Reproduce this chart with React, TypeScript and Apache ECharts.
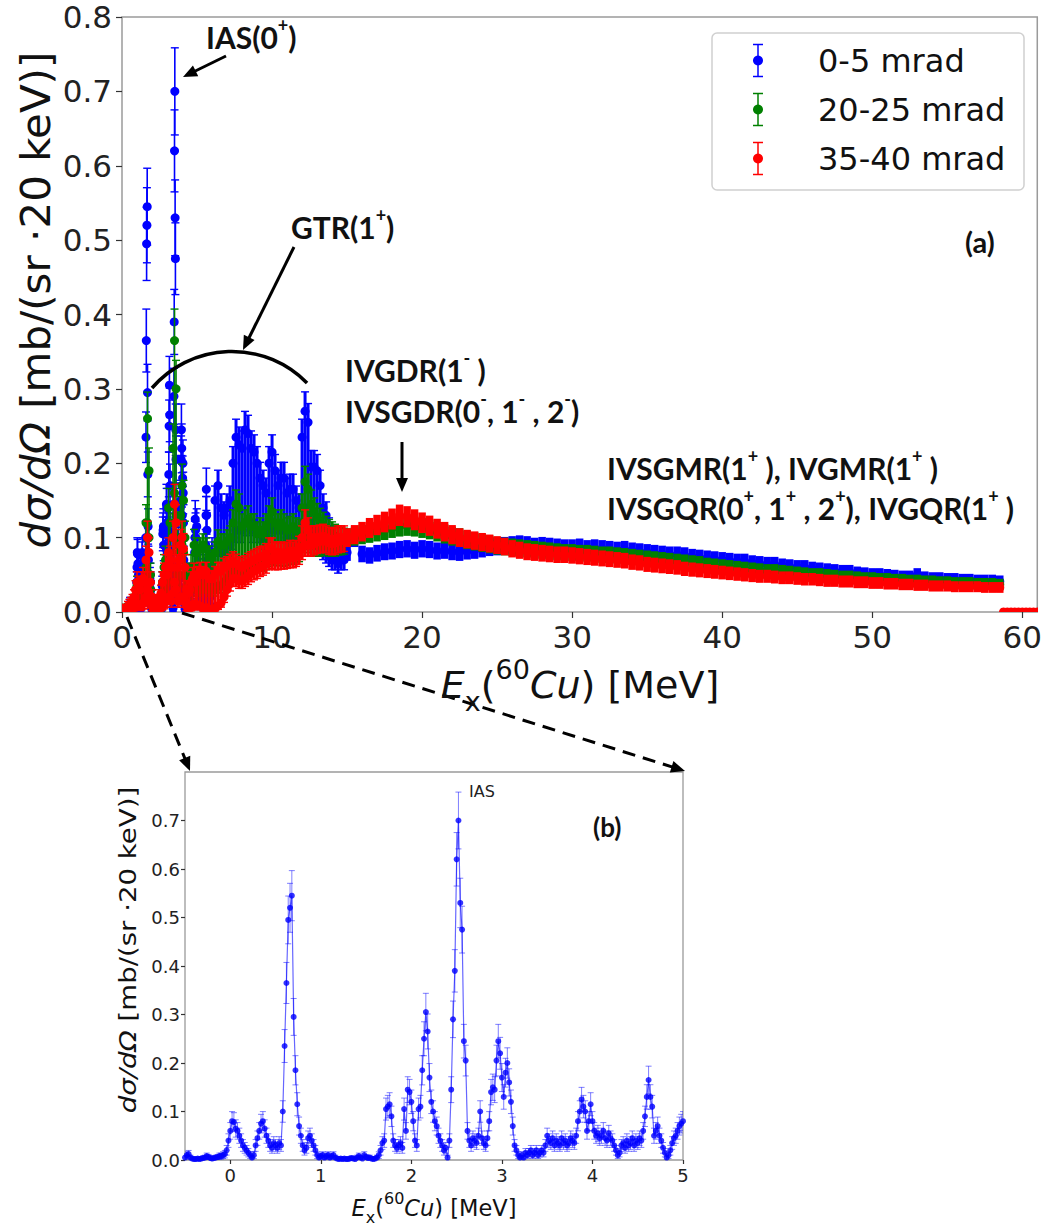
import React, { useEffect, useRef } from "react";
import * as echarts from "echarts";

// ---------------- data ----------------
// Inset (b): 0-5 mrad spectrum, 20 keV bins from -0.5 MeV
const insetStart = -0.5;
const insetStep = 0.02;
const insetBlue = [
  0.005, 0.010, 0.012, 0.005, 0.003, 0.002, 0.002, 0.003, 0.002, 0.003,
  0.004, 0.005, 0.008, 0.006, 0.004, 0.003, 0.004, 0.005, 0.006, 0.008,
  0.008, 0.010, 0.012, 0.020, 0.040, 0.060, 0.080, 0.078, 0.065, 0.060,
  0.050, 0.040, 0.030, 0.025, 0.020, 0.015, 0.010, 0.005, 0.010, 0.030,
  0.045, 0.060, 0.075, 0.080, 0.065, 0.050, 0.040, 0.030, 0.025, 0.035,
  0.030, 0.025, 0.035, 0.030, 0.100, 0.235, 0.365, 0.495, 0.520, 0.545,
  0.295, 0.185, 0.115, 0.070, 0.050, 0.030, 0.020, 0.025, 0.045, 0.050,
  0.040, 0.030, 0.020, 0.010, 0.005, 0.008, 0.010, 0.005, 0.008, 0.010,
  0.005, 0.008, 0.010, 0.005, 0.003, 0.002, 0.003, 0.002, 0.003, 0.002,
  0.002, 0.003, 0.004, 0.003, 0.002, 0.005, 0.008, 0.005, 0.003, 0.010,
  0.006, 0.004, 0.005, 0.003, 0.002, 0.003, 0.005, 0.010, 0.020, 0.035,
  0.040, 0.105, 0.110, 0.115, 0.090, 0.040, 0.030, 0.025, 0.030, 0.035,
  0.025, 0.105, 0.060, 0.145, 0.140, 0.120, 0.080, 0.040, 0.030, 0.105,
  0.110, 0.185, 0.250, 0.305, 0.265, 0.170, 0.120, 0.100, 0.080, 0.070,
  0.050, 0.040, 0.030, 0.020, 0.025, 0.005, 0.040, 0.145, 0.290, 0.390,
  0.620, 0.700, 0.530, 0.475, 0.245, 0.205, 0.060, 0.040, 0.030, 0.045,
  0.040, 0.035, 0.050, 0.100, 0.045, 0.035, 0.030, 0.045, 0.080, 0.140,
  0.150, 0.145, 0.205, 0.245, 0.220, 0.170, 0.130, 0.180, 0.200, 0.160,
  0.120, 0.070, 0.030, 0.020, 0.010, 0.005, 0.010, 0.005, 0.015, 0.010,
  0.015, 0.020, 0.010, 0.015, 0.020, 0.010, 0.015, 0.020, 0.015, 0.030,
  0.050, 0.040, 0.035, 0.045, 0.030, 0.040, 0.035, 0.030, 0.045, 0.035,
  0.040, 0.030, 0.035, 0.045, 0.040, 0.035, 0.050, 0.080, 0.100, 0.125,
  0.110, 0.100, 0.060, 0.080, 0.115, 0.080, 0.060, 0.050, 0.055, 0.045,
  0.050, 0.060, 0.045, 0.040, 0.055, 0.045, 0.040, 0.030, 0.020, 0.010,
  0.015, 0.030, 0.035, 0.025, 0.040, 0.030, 0.035, 0.045, 0.030, 0.040,
  0.035, 0.045, 0.040, 0.060, 0.090, 0.130, 0.165, 0.130, 0.110, 0.050,
  0.060, 0.070, 0.050, 0.040, 0.025, 0.015, 0.005, 0.010, 0.020, 0.035,
  0.045, 0.050, 0.060, 0.070, 0.075, 0.080,
];

// energy offset of the main panel relative to the inset (as read from the peaks)
const mainShift = 1.0;

// main panel, low region 0 - 4.9 MeV, 0.1 MeV slices: highest / lowest bin in each slice
const lowStart = 0;
const lowStep = 0.1;
const greenLowHi = [
  0.005, 0.005, 0.004, 0.005, 0.006, 0.006, 0.010, 0.012, 0.015, 0.020,
  0.035, 0.030, 0.018, 0.030, 0.035, 0.030, 0.120, 0.260, 0.190, 0.050,
  0.020, 0.008, 0.005, 0.005, 0.006, 0.006, 0.010, 0.040, 0.060, 0.070,
  0.060, 0.140, 0.120, 0.060, 0.220, 0.365, 0.300, 0.090, 0.080, 0.130,
  0.170, 0.150, 0.100, 0.050, 0.040, 0.045, 0.060, 0.060, 0.090, 0.080,
];
const greenLowLo = [
  0.004, 0.004, 0.003, 0.004, 0.005, 0.005, 0.008, 0.010, 0.012, 0.015,
  0.025, 0.020, 0.015, 0.020, 0.025, 0.025, 0.060, 0.120, 0.100, 0.030,
  0.015, 0.006, 0.004, 0.004, 0.005, 0.005, 0.008, 0.020, 0.030, 0.040,
  0.040, 0.070, 0.060, 0.040, 0.100, 0.160, 0.130, 0.050, 0.050, 0.070,
  0.090, 0.080, 0.050, 0.030, 0.025, 0.030, 0.040, 0.040, 0.050, 0.050,
];
const redLowHi = [
  0.005, 0.005, 0.003, 0.005, 0.008, 0.010, 0.012, 0.015, 0.020, 0.030,
  0.040, 0.035, 0.030, 0.040, 0.045, 0.040, 0.070, 0.100, 0.080, 0.040,
  0.020, 0.010, 0.008, 0.010, 0.015, 0.020, 0.025, 0.040, 0.050, 0.060,
  0.050, 0.080, 0.070, 0.060, 0.100, 0.145, 0.120, 0.060, 0.070, 0.090,
  0.100, 0.085, 0.060, 0.030, 0.025, 0.030, 0.040, 0.045, 0.050, 0.040,
];
const redLowLo = [
  0.002, 0.002, 0.001, 0.002, 0.003, 0.004, 0.005, 0.006, 0.008, 0.010,
  0.010, 0.010, 0.008, 0.010, 0.012, 0.012, 0.020, 0.030, 0.025, 0.015,
  0.008, 0.004, 0.003, 0.004, 0.005, 0.006, 0.008, 0.010, 0.012, 0.015,
  0.015, 0.020, 0.020, 0.015, 0.025, 0.040, 0.030, 0.015, 0.015, 0.020,
  0.020, 0.020, 0.015, 0.008, 0.005, 0.005, 0.008, 0.010, 0.010, 0.010,
];

// main panel, mid region, 0.2 MeV slices: highest / lowest bin in each slice
const midStep = 0.2;
const blueMidStart = 6.2;
const blueMidHi = [
  0.150, 0.170, 0.140, 0.130, 0.140, 0.150, 0.200, 0.235, 0.225, 0.220,
  0.245, 0.240, 0.220, 0.215, 0.200, 0.180, 0.170, 0.160, 0.200, 0.215,
  0.190, 0.170, 0.180, 0.180, 0.160, 0.165, 0.165, 0.150, 0.140, 0.235,
  0.270, 0.255, 0.195, 0.195, 0.190, 0.170, 0.140, 0.130, 0.110, 0.100,
  0.085, 0.075, 0.075, 0.075,
];
const blueMidLo = [
  0.080, 0.090, 0.080, 0.080, 0.090, 0.090, 0.100, 0.110, 0.110, 0.110,
  0.120, 0.120, 0.110, 0.120, 0.110, 0.110, 0.100, 0.100, 0.110, 0.120,
  0.110, 0.110, 0.110, 0.110, 0.100, 0.100, 0.100, 0.100, 0.100, 0.120,
  0.140, 0.130, 0.120, 0.110, 0.100, 0.090, 0.085, 0.080, 0.075, 0.070,
  0.070, 0.065, 0.070, 0.070,
];
const midStart = 5.0;
const greenMidHi = [
  0.080, 0.085, 0.090, 0.085, 0.075, 0.070, 0.080, 0.095, 0.090, 0.090,
  0.095, 0.100, 0.120, 0.145, 0.140, 0.115, 0.120, 0.125, 0.115, 0.115,
  0.105, 0.110, 0.105, 0.115, 0.125, 0.135, 0.120, 0.115, 0.120, 0.115,
  0.110, 0.112, 0.115, 0.110, 0.108, 0.140, 0.175, 0.165, 0.145, 0.135,
  0.128, 0.122, 0.117, 0.112, 0.108, 0.105, 0.102, 0.100, 0.098, 0.097,
];
const greenMidLo = [
  0.030, 0.030, 0.035, 0.035, 0.030, 0.030, 0.030, 0.035, 0.035, 0.040,
  0.045, 0.050, 0.055, 0.060, 0.055, 0.055, 0.058, 0.060, 0.062, 0.064,
  0.066, 0.068, 0.068, 0.070, 0.075, 0.078, 0.076, 0.076, 0.076, 0.075,
  0.076, 0.078, 0.078, 0.080, 0.082, 0.090, 0.100, 0.095, 0.090, 0.090,
  0.090, 0.090, 0.092, 0.092, 0.090, 0.090, 0.090, 0.092, 0.092, 0.093,
];
const redMidHi = [
  0.050, 0.055, 0.050, 0.055, 0.045, 0.045, 0.050, 0.055, 0.055, 0.060,
  0.062, 0.065, 0.068, 0.065, 0.062, 0.060, 0.063, 0.066, 0.068, 0.070,
  0.072, 0.074, 0.075, 0.078, 0.085, 0.085, 0.080, 0.080, 0.080, 0.079,
  0.080, 0.082, 0.080, 0.082, 0.087, 0.100, 0.120, 0.110, 0.100, 0.100,
  0.100, 0.101, 0.102, 0.100, 0.098, 0.097, 0.098, 0.100, 0.100, 0.100,
];
const redMidLo = [
  0.010, 0.008, 0.005, 0.006, 0.004, 0.004, 0.005, 0.008, 0.012, 0.020,
  0.030, 0.038, 0.045, 0.045, 0.042, 0.042, 0.045, 0.048, 0.052, 0.055,
  0.057, 0.060, 0.062, 0.065, 0.070, 0.072, 0.070, 0.070, 0.071, 0.071,
  0.072, 0.073, 0.073, 0.075, 0.078, 0.085, 0.090, 0.090, 0.090, 0.092,
  0.094, 0.095, 0.096, 0.095, 0.093, 0.092, 0.093, 0.095, 0.096, 0.097,
];

// main panel, high region 15 - 58.5 MeV, 0.5 MeV steps
const highStart = 15;
const highStep = 0.5;
const blueHigh = [
  0.080, 0.100, 0.078, 0.076, 0.079, 0.081, 0.082, 0.084, 0.085, 0.083,
  0.085, 0.084, 0.082, 0.083, 0.081, 0.080, 0.082, 0.083, 0.085, 0.087,
  0.088, 0.089, 0.090, 0.091, 0.090, 0.088, 0.089, 0.088, 0.087, 0.086,
  0.086, 0.087, 0.085, 0.086, 0.085, 0.084, 0.083, 0.084, 0.082, 0.081,
  0.080, 0.079, 0.078, 0.077, 0.077, 0.076, 0.074, 0.073, 0.072, 0.071,
  0.070, 0.069, 0.068, 0.068, 0.066, 0.065, 0.064, 0.064, 0.062, 0.061,
  0.060, 0.060, 0.058, 0.057, 0.056, 0.055, 0.054, 0.054, 0.052, 0.051,
  0.050, 0.050, 0.049, 0.048, 0.047, 0.047, 0.050, 0.046, 0.045, 0.045,
  0.044, 0.044, 0.043, 0.043, 0.042, 0.042, 0.042, 0.041,
];
const greenHigh = [
  0.100, 0.102, 0.104, 0.106, 0.108, 0.110, 0.113, 0.115, 0.116, 0.115,
  0.113, 0.111, 0.108, 0.105, 0.102, 0.100, 0.097, 0.095, 0.093, 0.091,
  0.089, 0.088, 0.087, 0.086, 0.085, 0.084, 0.083, 0.082, 0.081, 0.080,
  0.080, 0.079, 0.079, 0.078, 0.077, 0.077, 0.076, 0.075, 0.074, 0.073,
  0.072, 0.071, 0.070, 0.069, 0.068, 0.067, 0.066, 0.065, 0.063, 0.062,
  0.061, 0.060, 0.059, 0.058, 0.057, 0.056, 0.055, 0.055, 0.054, 0.053,
  0.052, 0.051, 0.050, 0.050, 0.049, 0.048, 0.047, 0.047, 0.046, 0.045,
  0.045, 0.044, 0.044, 0.043, 0.043, 0.042, 0.042, 0.041, 0.041, 0.040,
  0.040, 0.039, 0.039, 0.039, 0.038, 0.038, 0.038, 0.037,
];
const redHigh = [
  0.100, 0.104, 0.108, 0.113, 0.117, 0.121, 0.125, 0.130, 0.128, 0.124,
  0.120, 0.116, 0.112, 0.108, 0.104, 0.100, 0.098, 0.096, 0.094, 0.092,
  0.090, 0.088, 0.085, 0.083, 0.081, 0.080, 0.079, 0.078, 0.077, 0.077,
  0.076, 0.075, 0.074, 0.073, 0.072, 0.071, 0.070, 0.069, 0.067, 0.066,
  0.064, 0.063, 0.062, 0.061, 0.060, 0.058, 0.057, 0.056, 0.055, 0.054,
  0.053, 0.052, 0.051, 0.050, 0.049, 0.048, 0.048, 0.047, 0.046, 0.046,
  0.045, 0.044, 0.044, 0.043, 0.042, 0.042, 0.041, 0.041, 0.040, 0.040,
  0.039, 0.039, 0.038, 0.038, 0.037, 0.037, 0.036, 0.036, 0.035, 0.035,
  0.035, 0.034, 0.034, 0.034, 0.034, 0.033, 0.033, 0.033,
];
// above the end of the spectrum
const tailStart = 58.75;
const tailStep = 0.25;
const redTail = [0, 0, 0, 0, 0, 0, 0, 0, 0, 0];

// statistical uncertainty scale (err = k * sqrt(value))
const errFine = 0.07;
const errMid = 0.05;
const errHigh = 0.04;

const seriesNames = ["0-5 mrad", "20-25 mrad", "35-40 mrad"];
const seriesColors = ["#0000ff", "#008000", "#ff0000"];

const mainXTicks = [0, 10, 20, 30, 40, 50, 60];
const mainYTicks = [0, 0.1, 0.2, 0.3, 0.4, 0.5, 0.6, 0.7, 0.8];
const insetXTicks = [0, 1, 2, 3, 4, 5];
const insetYTicks = [0, 0.1, 0.2, 0.3, 0.4, 0.5, 0.6, 0.7];

// ---------------- helpers ----------------
const FONT = "DejaVu Sans";
const AFONT = "Lato";

// item: [x, hi, errHi, step, lo, errLo]
function segment(start: number, step: number, hi: number[], k: number, lo?: number[]) {
  return hi.map((v, i) => {
    const l = lo ? lo[i] : v;
    return [+(start + i * step).toFixed(4), v, k * Math.sqrt(v), step, l, k * Math.sqrt(l)];
  });
}

function arrow(x1: number, y1: number, x2: number, y2: number, width: number, headLen: number, headW: number, dash?: number[]) {
  const dx = x2 - x1;
  const dy = y2 - y1;
  const L = Math.hypot(dx, dy);
  const ux = dx / L;
  const uy = dy / L;
  const bx = x2 - ux * headLen;
  const by = y2 - uy * headLen;
  return [
    {
      type: "line",
      z: 60,
      shape: { x1, y1, x2: bx + ux * 2, y2: by + uy * 2 },
      style: { stroke: "#000", lineWidth: width, lineDash: dash || null },
    },
    {
      type: "polygon",
      z: 60,
      shape: {
        points: [
          [x2, y2],
          [bx - uy * headW, by + ux * headW],
          [bx + uy * headW, by - ux * headW],
        ],
      },
      style: { fill: "#000" },
    },
  ];
}

function annText(x: number, y: number, text: string, size: number) {
  const lh = Math.round(size * 1.4);
  return {
    type: "text",
    z: 60,
    x,
    y,
    style: {
      text,
      fontFamily: AFONT,
      fontWeight: "bold",
      fontSize: size,
      lineHeight: lh,
      fill: "#111",
      align: "left",
      verticalAlign: "middle",
      rich: {
        sup: {
          fontFamily: AFONT,
          fontWeight: "bold",
          fontSize: Math.round(size * 0.6),
          lineHeight: Math.round(size * 0.72),
          verticalAlign: "top",
          fill: "#111",
        },
      },
    },
  };
}

function mathRich(size: number) {
  const lh = Math.round(size * 1.55);
  return {
    lh,
    rich: {
      it: { fontFamily: FONT, fontStyle: "italic", fontSize: size, lineHeight: lh, verticalAlign: "middle", fill: "#111" },
      n: { fontFamily: FONT, fontSize: size, lineHeight: lh, verticalAlign: "middle", fill: "#111" },
      sup: { fontFamily: FONT, fontSize: Math.round(size * 0.7), lineHeight: Math.round(size * 0.68), verticalAlign: "top", fill: "#111" },
      sub: { fontFamily: FONT, fontSize: Math.round(size * 0.7), lineHeight: Math.round(size * 1.2), verticalAlign: "bottom", fill: "#111" },
    },
  };
}

function axisTitle(x: number, y: number, text: string, size: number, rotate: boolean, stretch: number) {
  const m = mathRich(size);
  return {
    type: "text",
    z: 60,
    x,
    y,
    rotation: rotate ? Math.PI / 2 : 0,
    scaleX: stretch,
    style: {
      text,
      fontFamily: FONT,
      fontSize: size,
      lineHeight: m.lh,
      fill: "#111",
      align: "center",
      verticalAlign: "middle",
      rich: m.rich,
    },
  };
}

const xTitle = "{it|E}{sub|x}{n|(}{sup|60}{it|Cu}{n|) [MeV]}";
const yTitle = "{it|dσ/dΩ}{n| [mb/(sr ·20 keV)]}";

export default function App() {
  const ref = useRef<HTMLDivElement>(null);

  useEffect(() => {
    document.body.style.margin = "0";
    if (!ref.current) return;
    const chart = echarts.init(ref.current, null, { renderer: "svg" });

    const blueMain = [
      ...segment(insetStart + mainShift, insetStep, insetBlue, errFine),
      ...segment(blueMidStart, midStep, blueMidHi, errMid, blueMidLo),
      ...segment(highStart, highStep, blueHigh, errHigh),
    ];
    const greenMain = [
      ...segment(lowStart, lowStep, greenLowHi, errFine, greenLowLo),
      ...segment(midStart, midStep, greenMidHi, errMid, greenMidLo),
      ...segment(highStart, highStep, greenHigh, errHigh),
    ];
    const redMain = [
      ...segment(lowStart, lowStep, redLowHi, errFine, redLowLo),
      ...segment(midStart, midStep, redMidHi, errMid, redMidLo),
      ...segment(highStart, highStep, redHigh, errHigh),
      ...segment(tailStart, tailStep, redTail, 0),
    ];
    const mainData = [blueMain, greenMain, redMain];

    const insetData = segment(insetStart, insetStep, insetBlue, errFine);

    const mainRender = (color: string) => (params: any, api: any) => {
      const x = api.value(0);
      const hi = api.value(1);
      const eHi = api.value(2);
      const st = api.value(3);
      const lo = api.value(4);
      const eLo = api.value(5);
      const cHi = api.coord([x, hi]);
      const cLo = api.coord([x, lo]);
      const t = api.coord([x, hi + eHi]);
      const b = api.coord([x, lo - eLo]);
      const w = Math.max(1.6, api.size([st, 0])[0]);
      const children: any[] = [];
      if (b[1] - t[1] > 0.5) {
        children.push({
          type: "rect",
          shape: { x: cHi[0] - w / 2, y: t[1], width: w, height: b[1] - t[1] },
          style: { fill: color },
        });
        if (w < 4) {
          children.push({
            type: "line",
            shape: { x1: cHi[0] - 4, y1: t[1], x2: cHi[0] + 4, y2: t[1] },
            style: { stroke: color, lineWidth: 1.4 },
          });
          children.push({
            type: "line",
            shape: { x1: cHi[0] - 4, y1: b[1], x2: cHi[0] + 4, y2: b[1] },
            style: { stroke: color, lineWidth: 1.4 },
          });
        }
      }
      children.push({ type: "circle", shape: { cx: cHi[0], cy: cHi[1], r: 4.5 }, style: { fill: color } });
      if (lo !== hi) {
        children.push({ type: "circle", shape: { cx: cLo[0], cy: cLo[1], r: 4.5 }, style: { fill: color } });
      }
      return { type: "group", children };
    };

    const insetRender = (params: any, api: any) => {
      const x = api.value(0);
      const y = api.value(1);
      const e = api.value(2);
      const t = api.coord([x, y + e]);
      const b = api.coord([x, y - e]);
      const st = { stroke: "rgba(0,0,255,0.5)", lineWidth: 1 };
      return {
        type: "group",
        children: [
          { type: "line", shape: { x1: t[0], y1: t[1], x2: b[0], y2: b[1] }, style: st },
          { type: "line", shape: { x1: t[0] - 3, y1: t[1], x2: t[0] + 3, y2: t[1] }, style: st },
          { type: "line", shape: { x1: b[0] - 3, y1: b[1], x2: b[0] + 3, y2: b[1] }, style: st },
        ],
      };
    };

    const tickStyle = { color: "#333", width: 1.2 };

    // legend
    const legendEls: any[] = [
      {
        type: "rect",
        z: 55,
        shape: { x: 712, y: 33, width: 312, height: 157, r: 5 },
        style: { fill: "rgba(255,255,255,0.85)", stroke: "#d0d0d0", lineWidth: 1.5 },
      },
    ];
    seriesNames.forEach((name, i) => {
      const cy = 60.5 + i * 49;
      const col = seriesColors[i];
      legendEls.push(
        { type: "line", z: 56, shape: { x1: 758, y1: cy - 16, x2: 758, y2: cy + 16 }, style: { stroke: col, lineWidth: 1.5 } },
        { type: "line", z: 56, shape: { x1: 753, y1: cy - 16, x2: 763, y2: cy - 16 }, style: { stroke: col, lineWidth: 1.5 } },
        { type: "line", z: 56, shape: { x1: 753, y1: cy + 16, x2: 763, y2: cy + 16 }, style: { stroke: col, lineWidth: 1.5 } },
        { type: "circle", z: 56, shape: { cx: 758, cy, r: 5 }, style: { fill: col } },
        {
          type: "text",
          z: 56,
          x: 818,
          y: cy,
          style: { text: name, fontFamily: FONT, fontSize: 32, fill: "#111", align: "left", verticalAlign: "middle" },
        }
      );
    });

    const graphics: any[] = [
      ...legendEls,
      // annotations
      annText(206, 37, "IAS(0{sup|+})", 30),
      ...arrow(226, 56, 183, 77, 3, 14, 6),
      annText(291, 227, "GTR(1{sup|+})", 30),
      ...arrow(294, 247, 243, 350, 3, 14, 6),
      {
        type: "arc",
        z: 60,
        shape: { cx: 231.8, cy: 456.7, r: 105.3, startAngle: -2.431, endAngle: -0.775, clockwise: true },
        style: { stroke: "#000", lineWidth: 3.5, fill: null },
      },
      annText(345, 370, "IVGDR(1{sup|-} )", 30),
      annText(345, 411, "IVSGDR(0{sup|-}, 1{sup|-} , 2{sup|-})", 30),
      ...arrow(402, 442, 402, 492, 3, 14, 6),
      annText(607, 468, "IVSGMR(1{sup|+} ), IVGMR(1{sup|+} )", 30),
      annText(607, 508, "IVSGQR(0{sup|+}, 1{sup|+} , 2{sup|+}), IVGQR(1{sup|+} )", 30),
      annText(965, 241, "(a)", 29),
      annText(593, 827, "(b)", 26),
      {
        type: "text",
        z: 60,
        x: 469,
        y: 791,
        style: { text: "IAS", fontFamily: FONT, fontSize: 16, fill: "#222", align: "left", verticalAlign: "middle" },
      },
      // zoom connectors
      ...arrow(127, 617, 190, 771, 3, 14, 6, [13, 8]),
      ...arrow(182, 613, 685, 771, 3, 14, 6, [13, 8]),
      // axis titles
      axisTitle(580, 685, xTitle, 38, false, 1),
      axisTitle(36, 300, yTitle, 40, true, 1.05),
      axisTitle(434, 1208, xTitle, 22.5, false, 1),
      axisTitle(128, 950, yTitle, 23, true, 1.2),
    ];

    const option: any = {
      animation: false,
      grid: [
        { left: 122, top: 17, width: 920, height: 595, show: true, borderColor: "#9a9a9a", borderWidth: 1.5, backgroundColor: "rgba(0,0,0,0)" },
        { left: 185, top: 772, width: 498, height: 388, show: true, borderColor: "#9a9a9a", borderWidth: 1.3, backgroundColor: "rgba(0,0,0,0)" },
      ],
      xAxis: [
        {
          type: "value",
          gridIndex: 0,
          min: 0,
          max: 61,
          axisLine: { show: false, onZero: false },
          splitLine: { show: false },
          axisTick: { show: true, length: 6, customValues: mainXTicks, lineStyle: tickStyle },
          axisLabel: { customValues: mainXTicks, fontSize: 31, fontFamily: FONT, color: "#222", margin: 9 },
        },
        {
          type: "value",
          gridIndex: 1,
          min: -0.5,
          max: 5,
          axisLine: { show: false, onZero: false },
          splitLine: { show: false },
          axisTick: { show: true, length: 4, customValues: insetXTicks, lineStyle: tickStyle },
          axisLabel: { customValues: insetXTicks, fontSize: 18, fontFamily: FONT, color: "#222", margin: 6 },
        },
      ],
      yAxis: [
        {
          type: "value",
          gridIndex: 0,
          min: 0,
          max: 0.8,
          axisLine: { show: false, onZero: false },
          splitLine: { show: false },
          axisTick: { show: true, length: 6, customValues: mainYTicks, lineStyle: tickStyle },
          axisLabel: {
            customValues: mainYTicks,
            fontSize: 31,
            fontFamily: FONT,
            color: "#222",
            margin: 10,
            formatter: (v: number) => v.toFixed(1),
          },
        },
        {
          type: "value",
          gridIndex: 1,
          min: 0,
          max: 0.8,
          axisLine: { show: false, onZero: false },
          splitLine: { show: false },
          axisTick: { show: true, length: 4, customValues: insetYTicks, lineStyle: tickStyle },
          axisLabel: {
            customValues: insetYTicks,
            fontSize: 18,
            fontFamily: FONT,
            color: "#222",
            margin: 5,
            formatter: (v: number) => v.toFixed(1),
          },
        },
      ],
      series: [
        ...seriesNames.map((name, i) => ({
          name,
          type: "custom",
          xAxisIndex: 0,
          yAxisIndex: 0,
          clip: true,
          encode: { x: 0, y: 1 },
          data: mainData[i],
          renderItem: mainRender(seriesColors[i]),
          z: 2 + i,
        })),
        {
          name: "inset-line",
          type: "line",
          xAxisIndex: 1,
          yAxisIndex: 1,
          data: insetData.map((d) => [d[0], d[1]]),
          showSymbol: false,
          lineStyle: { color: "rgba(0,0,255,0.6)", width: 1.2 },
          clip: true,
          z: 5,
        },
        {
          name: "inset-err",
          type: "custom",
          xAxisIndex: 1,
          yAxisIndex: 1,
          clip: true,
          encode: { x: 0, y: 1 },
          data: insetData,
          renderItem: insetRender,
          z: 6,
        },
        {
          name: "inset-pts",
          type: "scatter",
          xAxisIndex: 1,
          yAxisIndex: 1,
          data: insetData.map((d) => [d[0], d[1]]),
          symbol: "circle",
          symbolSize: 6,
          itemStyle: { color: "#0000ff" },
          clip: true,
          z: 7,
        },
      ],
      graphic: { elements: graphics },
    };

    chart.setOption(option);
    return () => chart.dispose();
  }, []);

  return <div ref={ref} style={{ width: 1045, height: 1226 }} />;
}
